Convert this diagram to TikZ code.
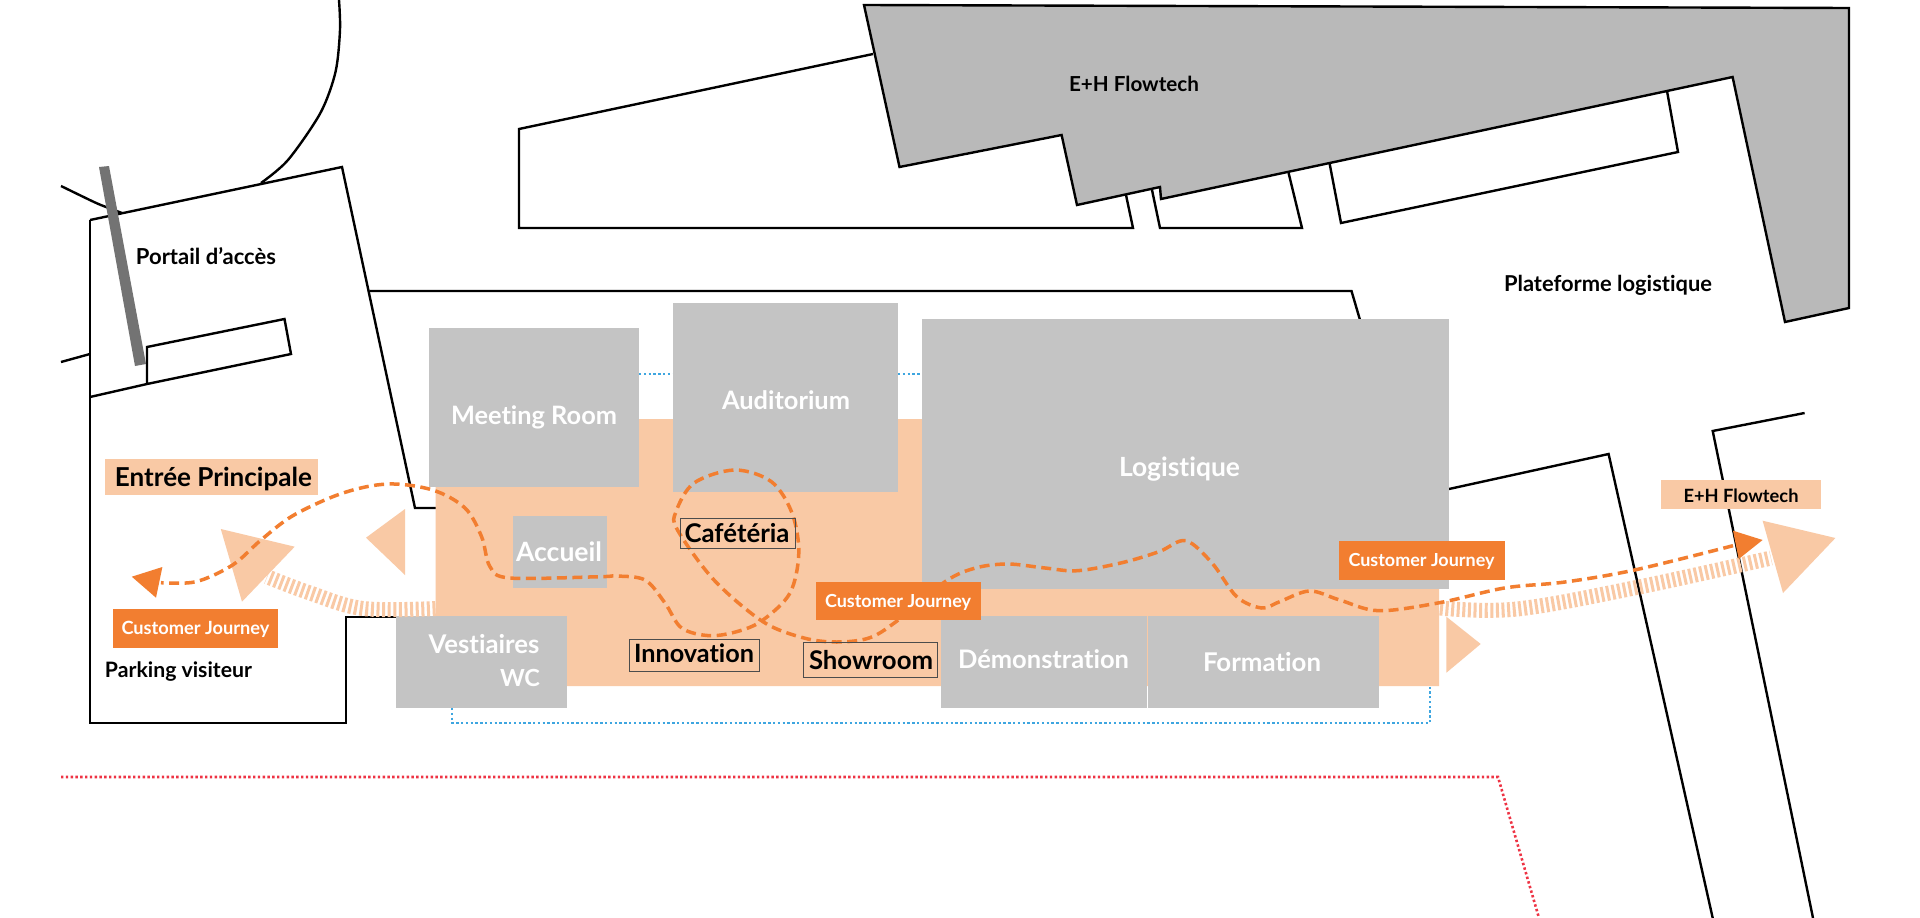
\documentclass[tikz,border=0pt]{standalone}
\usepackage{fontspec}
\setmainfont{Lato}[BoldFont={Lato Bold},Ligatures=NoCommon]
\definecolor{peach}{HTML}{F9C9A5}
\definecolor{boxgray}{HTML}{C4C4C4}
\definecolor{bldgray}{HTML}{B9B9B9}
\definecolor{jorange}{HTML}{F27E30}
\definecolor{gategray}{HTML}{737373}
\definecolor{dotblue}{HTML}{3EA6E0}
\definecolor{dotred}{HTML}{EE3344}
\newcommand{\fitw}[2]{\resizebox{#1pt}{!}{\fontsize{20pt}{24pt}\selectfont\bfseries #2}}
\tikzset{
  wall/.style={draw=black,line width=2.4pt,line join=miter},
  roombox/.style={fill=boxgray},
  stripes/.style={draw=peach,line width=15pt,dash pattern=on 3pt off 2.6pt},
  journey/.style={draw=jorange,line width=3.5pt,dash pattern=on 10pt off 5.5pt},
  bluedots/.style={draw=dotblue,line width=2.6pt,dash pattern=on 2.4pt off 2.4pt},
  reddots/.style={draw=dotred,line width=2.6pt,dash pattern=on 2.4pt off 2.4pt},
  lab/.style={anchor=base,inner sep=0pt,outer sep=0pt,yshift=-1pt},
  blk/.style={lab,text=black},
  wht/.style={lab,text=white},
  framed/.style={draw=black!70,line width=1pt}
}
\begin{document}
\begin{tikzpicture}[x=1pt,y=-1pt]
\useasboundingbox (0,0) rectangle (1920,918);
\fill[white] (0,0) rectangle (1920,918);
% top buildings
\draw[wall] (873,54) -- (519,129) -- (519,228) -- (1133,228) -- (1126,195);
\draw[wall] (1152,190) -- (1160,228) -- (1302,228) -- (1288.6,173);
\draw[wall] (1329.5,163) -- (1341,223) -- (1678,152) -- (1667,91);
\draw[wall,fill=bldgray] (864,5) -- (1849,8) -- (1849,308) -- (1785,322) -- (1732.6,77) -- (1161,199) -- (1160,187) -- (1077,205) -- (1061.6,135) -- (899.5,167) -- cycle;
% road and site
\draw[wall] plot[smooth,tension=0.5] coordinates {(339,0) (340,30) (335.5,72) (320.4,113) (288,160) (261,183)};
\draw[wall] plot[smooth,tension=0.5] coordinates {(61,186) (94,202) (106,207) (122,213)};
\draw[wall] (61,362) -- (90,354);
\draw[wall] (90,220) -- (342,167) -- (415,508) -- (436,508);
\draw[wall] (396,617) -- (346,617) -- (346,723) -- (90,723) -- (90,220);
\draw[wall] (90,397) -- (147,384) -- (291,354) -- (284.5,319) -- (147,347) -- (147,384);
\fill[gategray] (99,167) -- (109,166) -- (146,364) -- (135,366) -- cycle;
% middle building
\draw[wall] (369.4,291) -- (1351.5,291) -- (1360,320);
% right buildings
\draw[wall] (1449,489) -- (1608.6,454) -- (1712.7,918);
\draw[wall] (1804.6,413) -- (1712.7,431) -- (1813,918);
% dotted lines
\draw[reddots] (61,777) -- (1498,777) -- (1539,918);
\draw[bluedots] (639,374) -- (673,374);
\draw[bluedots] (898,374) -- (922,374);
\draw[bluedots] (452,708) -- (452,723) -- (1430,723) -- (1430,687);
% peach floor
\fill[peach] (435.5,419) -- (922,419) -- (922,589) -- (1439,589) -- (1439,686) -- (435.5,686) -- cycle;
% rooms
\fill[roombox] (429,328) rectangle (639,487);
\fill[roombox] (673,303) rectangle (898,492);
\fill[roombox] (922,319) rectangle (1449,589);
\fill[roombox] (513,516) rectangle (606.5,588);
\fill[roombox] (396,616) rectangle (567,708);
\fill[roombox] (941,616) rectangle (1147,708);
\fill[roombox] (1148,616) rectangle (1379,708);
% striped flows
\draw[stripes] plot[smooth,tension=0.6] coordinates {(435.5,608.5) (363,608.5) (310,593) (267,576.7)};
\draw[stripes] plot[smooth,tension=0.6] coordinates {(1440,608) (1517,609) (1639,587) (1771,558)};
% peach triangles
\fill[peach] (220.8,529) -- (294.7,546.7) -- (242,601.7) -- cycle;
\fill[peach] (405,509) -- (366,537.7) -- (405,575) -- cycle;
\fill[peach] (1446.4,616.7) -- (1480.7,644) -- (1446.4,672.7) -- cycle;
\fill[peach] (1762.6,520.7) -- (1835.4,538) -- (1783,593) -- cycle;
% labels fill
\node[fill=peach,minimum width=213pt,minimum height=36pt,inner sep=0pt,anchor=north west] (entreebg) at (105,459) {};
\node[fill=peach,minimum width=160pt,minimum height=29pt,inner sep=0pt,anchor=north west] (ehbg) at (1661,480) {};
% journey path
\draw[journey] plot[smooth,tension=0.55] coordinates {
 (1733,545.7) (1634.6,570) (1565,582) (1504.5,588) (1439.5,602.7) (1378.8,610.7) (1339.7,600) (1309.4,591) (1279,602) (1261.7,608) (1236.7,596.7) (1212,563) (1185.7,540.7) (1159,551.7) (1122,562.7) (1077.6,570.7) (1045,568) (1008,564) (975.5,568) (945,581.7) (896,621.7) (869,638) (836.7,642) (804,638) (763,621.7) (714,580) (677.5,530) (676,511.7) (694,483) (734.7,470) (771.4,481.7) (792,513) (798.8,553) (790,593) (763,620) (739,631) (710,635.7) (681.6,628) (665,603) (645,580) (616,576) (600,576.7) (510,578) (490,566.7) (481.6,536.7) (465,508) (432.6,490) (388,484) (343,493) (294,515) (261,540) (232.6,565) (196,581.7) (161,582.7)};
\fill[jorange] (162.4,567) -- (131.8,576.7) -- (156,597.7) -- cycle;
\fill[jorange] (1733,530.7) -- (1762.6,540) -- (1738.7,559) -- cycle;
% customer journey tags
\node[fill=jorange,minimum width=165.4pt,minimum height=38.7pt,inner sep=0pt,anchor=north west] (cjlbg) at (112.6,609) {};
\node[fill=jorange,minimum width=165.5pt,minimum height=38pt,inner sep=0pt,anchor=north west] (cjmbg) at (815.5,582) {};
\node[fill=jorange,minimum width=165.5pt,minimum height=39pt,inner sep=0pt,anchor=north west] (cjrbg) at (1339,541) {};
% framed labels
\node[framed,minimum width=114.7pt,minimum height=30.3pt,inner sep=0pt,anchor=north west] (cafebox) at (680,517.7) {};
\node[framed,minimum width=130pt,minimum height=31.7pt,inner sep=0pt,anchor=north west] (innobox) at (629,639) {};
\node[framed,minimum width=133.7pt,minimum height=34.7pt,inner sep=0pt,anchor=north west] (showbox) at (803,642) {};
% texts
\node[blk] (portail) at (206,263) {\fitw{140}{Portail d’accès}};
\node[blk] (entree) at (213.5,485) {\fitw{197}{Entrée Principale}};
\node[blk] (parking) at (178.5,676) {\fitw{147}{Parking visiteur}};
\node[blk] (ehtop) at (1134,90.7) {\fitw{130}{E+H Flowtech}};
\node[blk] (plateforme) at (1608,290.7) {\fitw{208}{Plateforme logistique}};
\node[blk] (ehright) at (1741,501) {\fitw{115}{E+H Flowtech}};
\node[blk] (cafe) at (737,541) {\fitw{105}{Cafétéria}};
\node[blk] (inno) at (694,661) {\fitw{120}{Innovation}};
\node[blk] (show) at (871,668) {\fitw{124}{Showroom}};
\node[wht] (meeting) at (534,423) {\fitw{166}{Meeting Room}};
\node[wht] (audit) at (786,408) {\fitw{128}{Auditorium}};
\node[wht] (logi) at (1179.5,475) {\fitw{121}{Logistique}};
\node[wht] (accueil) at (559,560) {\fitw{86}{Accueil}};
\node[wht] (vest) at (484,652) {\fitw{111}{Vestiaires}};
\node[wht] (wc) at (520,685.7) {\fitw{40}{WC}};
\node[wht] (demo) at (1043.5,667.7) {\fitw{171}{Démonstration}};
\node[wht] (forma) at (1262,670) {\fitw{118}{Formation}};
\node[wht] (cjl) at (195.5,633) {\fitw{148}{Customer Journey}};
\node[wht] (cjm) at (898,606) {\fitw{146}{Customer Journey}};
\node[wht] (cjr) at (1421.5,565.7) {\fitw{146}{Customer Journey}};
\end{tikzpicture}
\end{document}
